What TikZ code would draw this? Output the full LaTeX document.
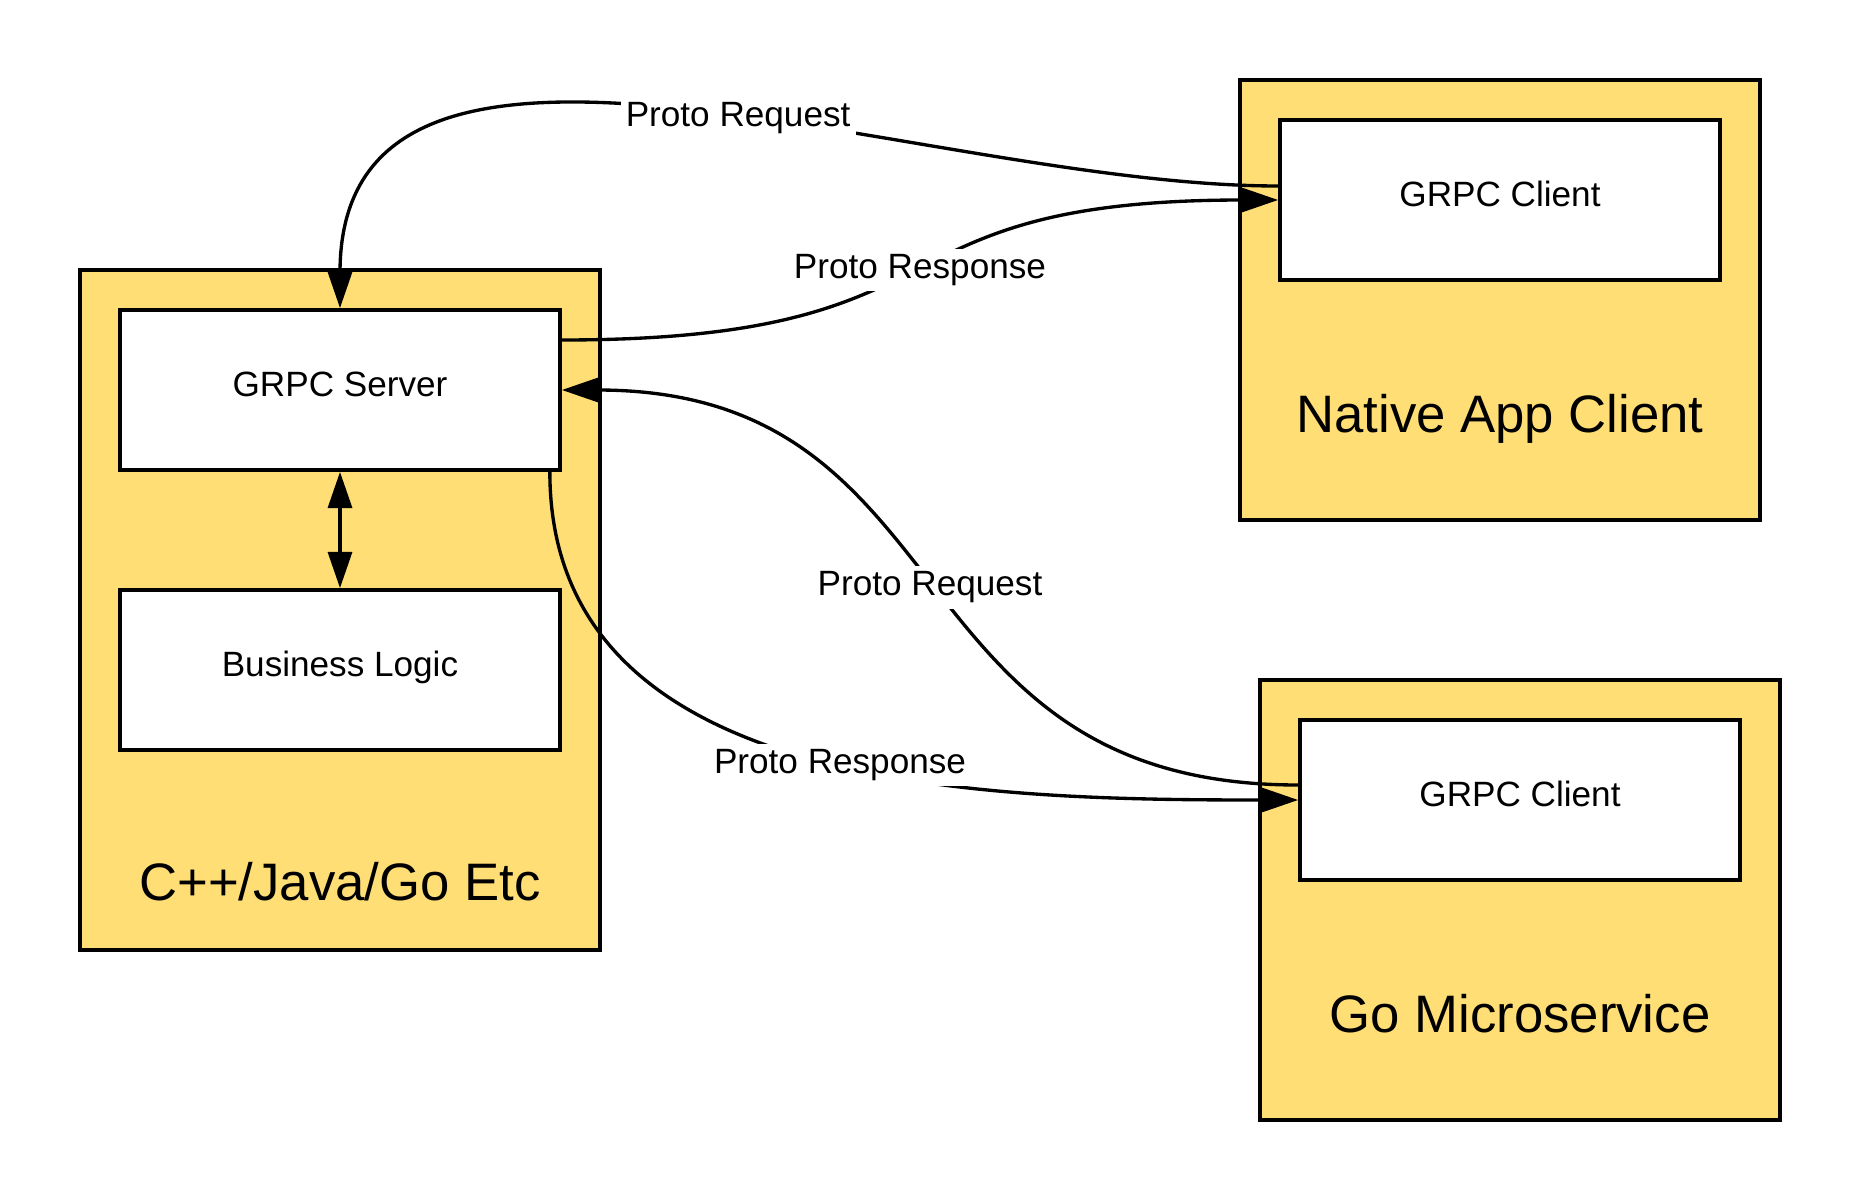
\documentclass[tikz,border=0pt]{standalone}
\usepackage{fontspec}
\setmainfont{Liberation Sans}
\usetikzlibrary{arrows.meta}
\definecolor{boxyellow}{HTML}{FFDE75}

\begin{document}
\begin{tikzpicture}[x=0.1mm, y=-0.1mm,
  >={Triangle[length=10.3pt,width=6.8pt]},
  outer/.style={draw, line width=1.05pt, fill=boxyellow, minimum width=52mm},
  inner/.style={draw, line width=1.05pt, fill=white, minimum width=44mm, minimum height=16mm,
    font=\fontsize{10}{12}\selectfont, text height=7.5pt, text depth=3.7pt},
  bigtitle/.style={anchor=base, font=\fontsize{15}{18}\selectfont},
  link/.style={line width=0.95pt, ->},
  msg/.style={fill=white, inner sep=1.5pt, font=\fontsize{10}{12}\selectfont}]
  \useasboundingbox (0,0) rectangle (1860,1200);
  % server process
  \node[outer, minimum height=68mm] (cppbox) at (340,610) {};
  \node[inner] (server) at (340,390) {GRPC Server};
  \node[inner] (logic) at (340,670) {Business Logic};
  \node[bigtitle] (cpplabel) at (340,900) {C++/Java/Go Etc};
  % clients
  \node[outer, minimum height=44mm] (nativebox) at (1500,300) {};
  \node[inner] (topclient) at (1500,200) {GRPC Client};
  \node[bigtitle] (nativelabel) at (1500,432) {Native App Client};
  \node[outer, minimum height=44mm] (gobox) at (1520,900) {};
  \node[inner] (botclient) at (1520,800) {GRPC Client};
  \node[bigtitle] (golabel) at (1520,1032) {Go Microservice};
  % calls
  \draw[line width=1pt, <->] (server.south) -- (logic.north);
  \draw[link] ([yshift=1.4mm]topclient.west) .. controls +(-360,0) and +(0,-360) ..
    node[msg, pos=0.445] (nativereq) {Proto Request} (server.north);
  \draw[link] ([yshift=5mm]server.east) .. controls +(420,0) and +(-420,0) ..
    node[msg, pos=0.5] (nativeresp) {Proto Response} (topclient.west);
  \draw[link] ([yshift=1.5mm]botclient.west) .. controls +(-410,0) and +(410,0) ..
    node[msg, pos=0.5] (goreq) {Proto Request} (server.east);
  \draw[link] ([xshift=-1.2mm]server.south east) .. controls +(0,320) and +(-320,0) ..
    node[msg, pos=0.54] (goresp) {Proto Response} (botclient.west);
\end{tikzpicture}
\end{document}
